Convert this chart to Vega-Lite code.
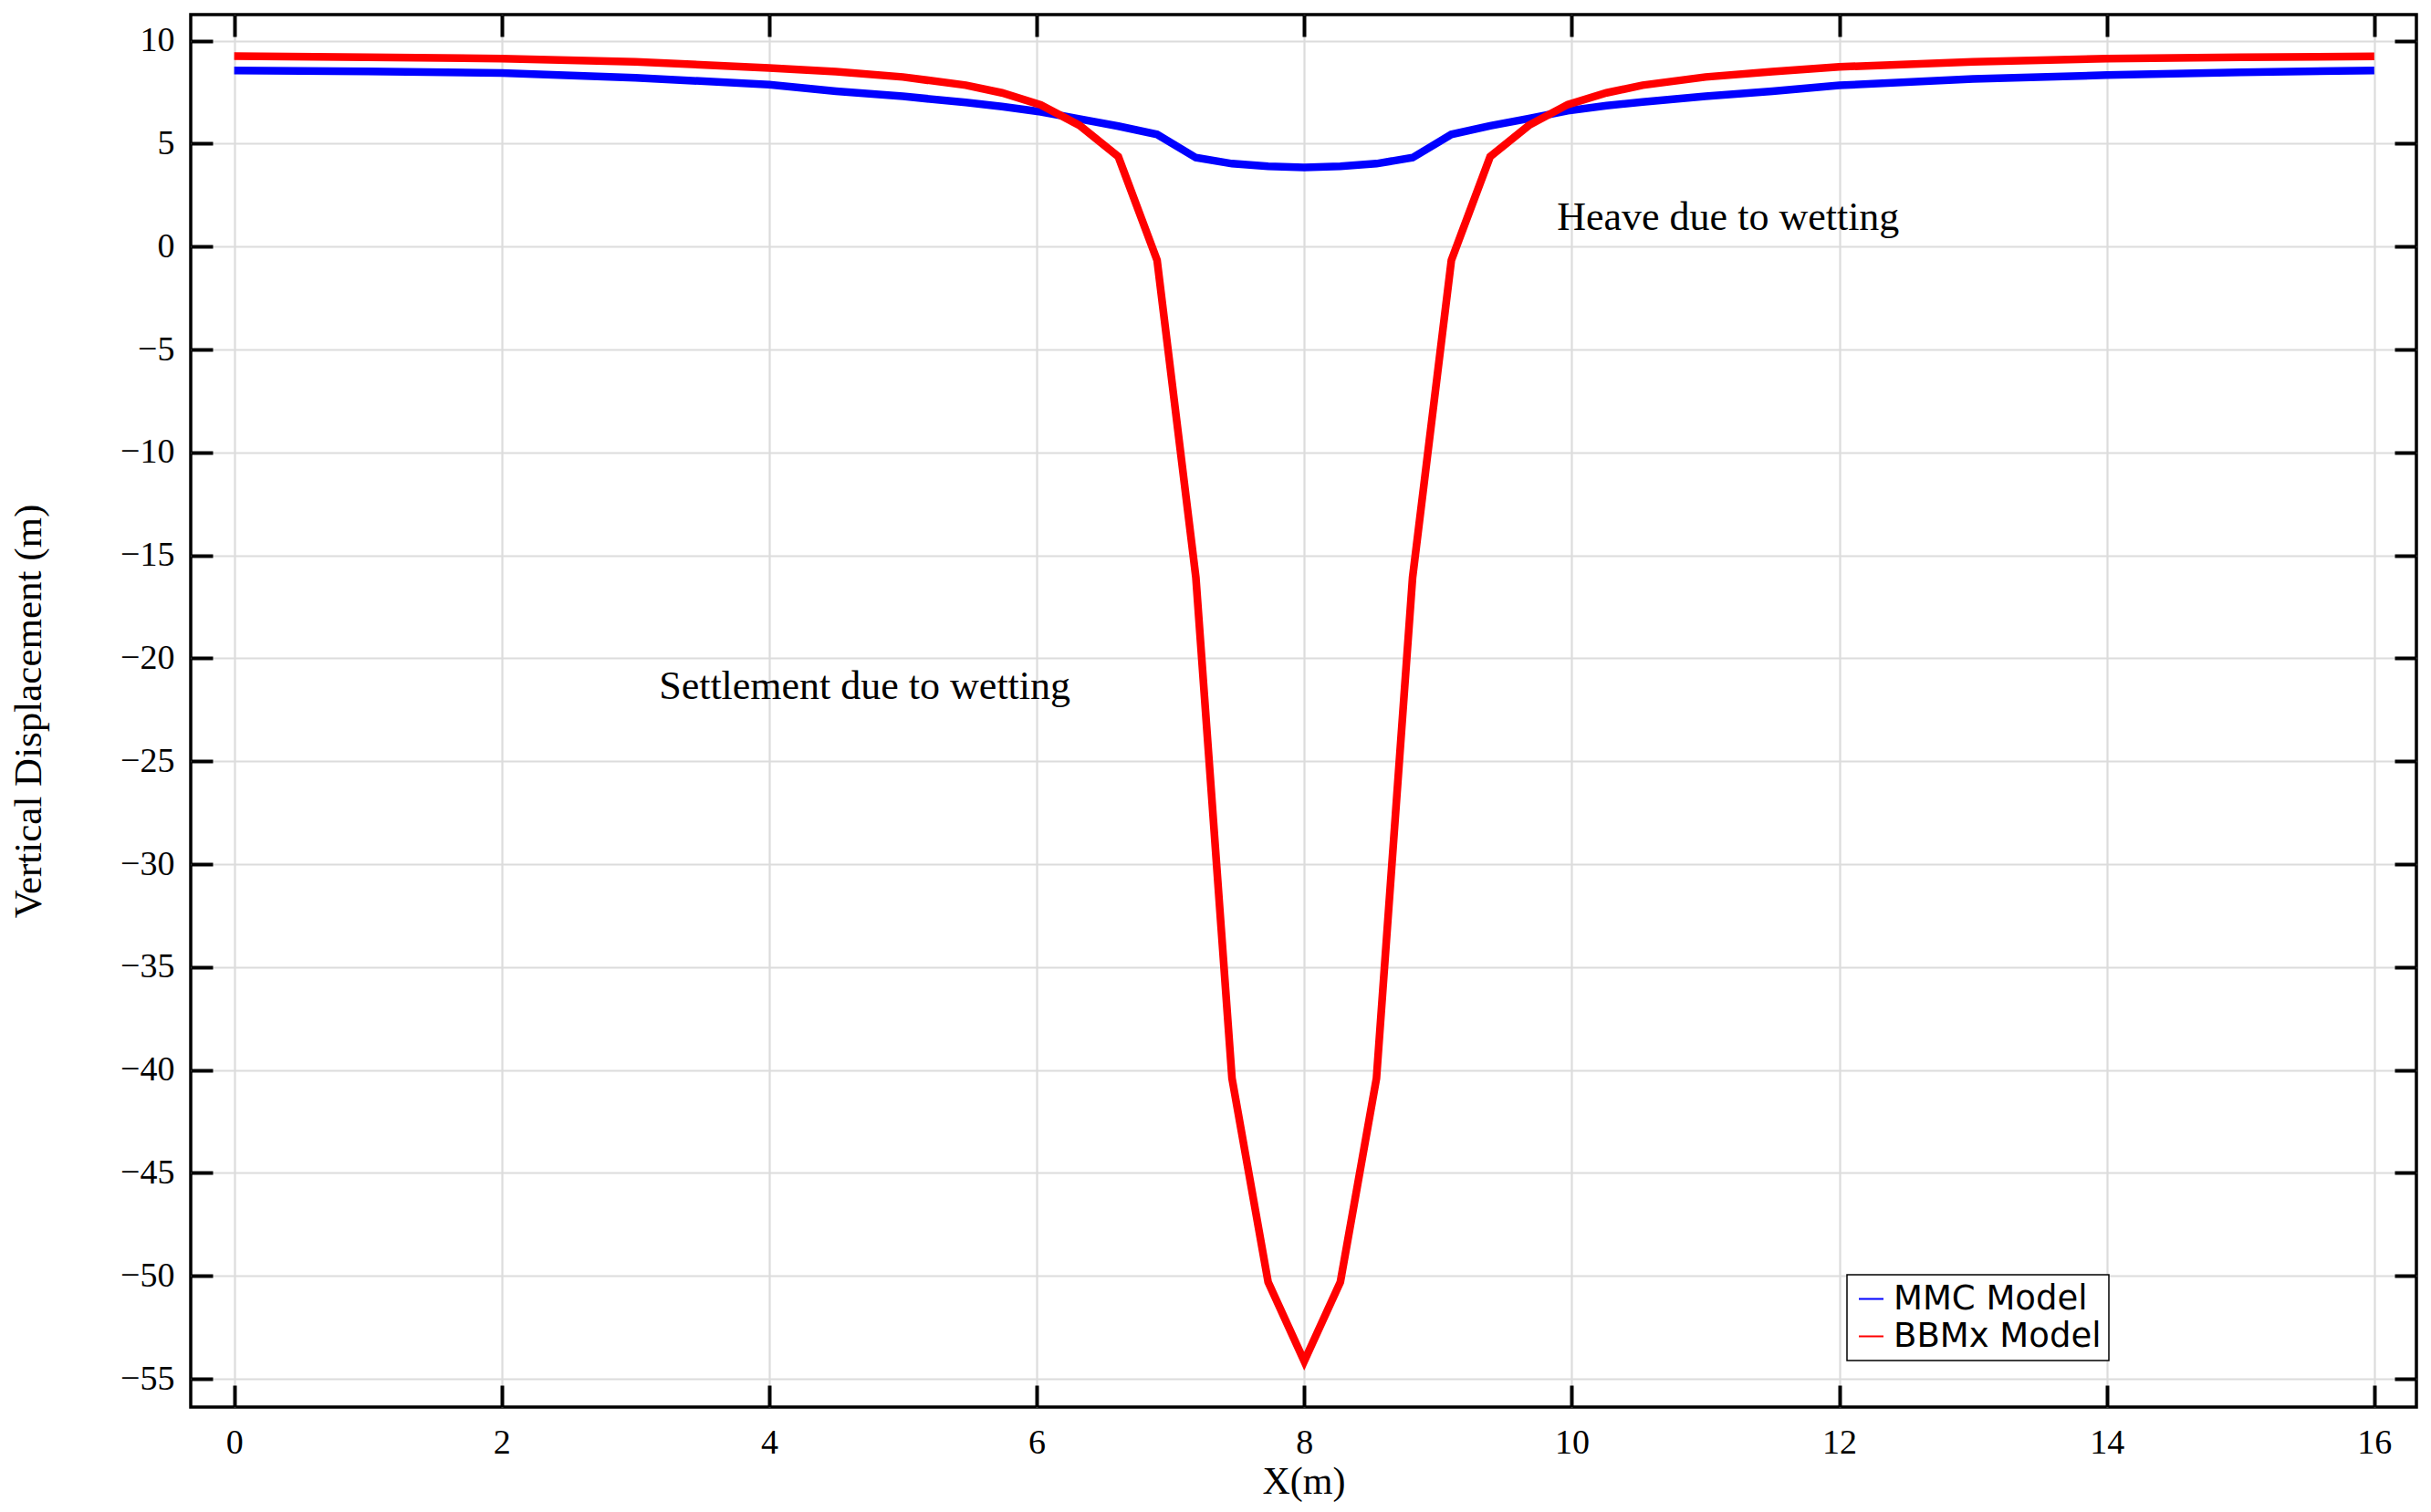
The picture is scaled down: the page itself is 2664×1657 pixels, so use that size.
{
  "$schema": "https://vega.github.io/schema/vega-lite/v6.json",
  "width": 2439,
  "height": 1526,
  "autosize": {"type": "none"},
  "padding": {"left": 209, "top": 16, "right": 16, "bottom": 115},
  "background": "white",
  "config": {
    "view": {"stroke": "black", "strokeWidth": 3.5}
  },
  "data": {
    "values": [
      {"model": "MMC Model", "x_m": 0, "disp": 8.56},
      {"model": "MMC Model", "x_m": 1, "disp": 8.51},
      {"model": "MMC Model", "x_m": 2, "disp": 8.43},
      {"model": "MMC Model", "x_m": 3, "disp": 8.2},
      {"model": "MMC Model", "x_m": 4, "disp": 7.87},
      {"model": "MMC Model", "x_m": 4.5, "disp": 7.55},
      {"model": "MMC Model", "x_m": 5.0, "disp": 7.3},
      {"model": "MMC Model", "x_m": 5.47, "disp": 7.0},
      {"model": "MMC Model", "x_m": 5.74, "disp": 6.8},
      {"model": "MMC Model", "x_m": 6.03, "disp": 6.55},
      {"model": "MMC Model", "x_m": 6.32, "disp": 6.2},
      {"model": "MMC Model", "x_m": 6.61, "disp": 5.85},
      {"model": "MMC Model", "x_m": 6.9, "disp": 5.45},
      {"model": "MMC Model", "x_m": 7.19, "disp": 4.32},
      {"model": "MMC Model", "x_m": 7.46, "disp": 4.03},
      {"model": "MMC Model", "x_m": 7.73, "disp": 3.9},
      {"model": "MMC Model", "x_m": 8.0, "disp": 3.85},
      {"model": "MMC Model", "x_m": 8.27, "disp": 3.9},
      {"model": "MMC Model", "x_m": 8.54, "disp": 4.03},
      {"model": "MMC Model", "x_m": 8.81, "disp": 4.32},
      {"model": "MMC Model", "x_m": 9.1, "disp": 5.45},
      {"model": "MMC Model", "x_m": 9.39, "disp": 5.87},
      {"model": "MMC Model", "x_m": 9.68, "disp": 6.22},
      {"model": "MMC Model", "x_m": 9.97, "disp": 6.6},
      {"model": "MMC Model", "x_m": 10.26, "disp": 6.85},
      {"model": "MMC Model", "x_m": 10.53, "disp": 7.03},
      {"model": "MMC Model", "x_m": 11.0, "disp": 7.3},
      {"model": "MMC Model", "x_m": 11.5, "disp": 7.55},
      {"model": "MMC Model", "x_m": 12, "disp": 7.83},
      {"model": "MMC Model", "x_m": 13, "disp": 8.15},
      {"model": "MMC Model", "x_m": 14, "disp": 8.33},
      {"model": "MMC Model", "x_m": 15, "disp": 8.47},
      {"model": "MMC Model", "x_m": 16, "disp": 8.56},
      {"model": "BBMx Model", "x_m": 0, "disp": 9.25},
      {"model": "BBMx Model", "x_m": 1, "disp": 9.2},
      {"model": "BBMx Model", "x_m": 2, "disp": 9.13},
      {"model": "BBMx Model", "x_m": 3, "disp": 8.98},
      {"model": "BBMx Model", "x_m": 4, "disp": 8.68},
      {"model": "BBMx Model", "x_m": 4.5, "disp": 8.5},
      {"model": "BBMx Model", "x_m": 5.0, "disp": 8.24},
      {"model": "BBMx Model", "x_m": 5.47, "disp": 7.84},
      {"model": "BBMx Model", "x_m": 5.74, "disp": 7.47},
      {"model": "BBMx Model", "x_m": 6.03, "disp": 6.88},
      {"model": "BBMx Model", "x_m": 6.32, "disp": 5.89},
      {"model": "BBMx Model", "x_m": 6.61, "disp": 4.37},
      {"model": "BBMx Model", "x_m": 6.9, "disp": -0.66},
      {"model": "BBMx Model", "x_m": 7.19, "disp": -16.08},
      {"model": "BBMx Model", "x_m": 7.46, "disp": -40.4},
      {"model": "BBMx Model", "x_m": 7.73, "disp": -50.3},
      {"model": "BBMx Model", "x_m": 8.0, "disp": -54.14},
      {"model": "BBMx Model", "x_m": 8.27, "disp": -50.3},
      {"model": "BBMx Model", "x_m": 8.54, "disp": -40.4},
      {"model": "BBMx Model", "x_m": 8.81, "disp": -16.08},
      {"model": "BBMx Model", "x_m": 9.1, "disp": -0.66},
      {"model": "BBMx Model", "x_m": 9.39, "disp": 4.37},
      {"model": "BBMx Model", "x_m": 9.68, "disp": 5.89},
      {"model": "BBMx Model", "x_m": 9.97, "disp": 6.9},
      {"model": "BBMx Model", "x_m": 10.26, "disp": 7.47},
      {"model": "BBMx Model", "x_m": 10.53, "disp": 7.84},
      {"model": "BBMx Model", "x_m": 11.0, "disp": 8.24},
      {"model": "BBMx Model", "x_m": 11.5, "disp": 8.5},
      {"model": "BBMx Model", "x_m": 12, "disp": 8.73},
      {"model": "BBMx Model", "x_m": 13, "disp": 8.98},
      {"model": "BBMx Model", "x_m": 14, "disp": 9.13},
      {"model": "BBMx Model", "x_m": 15, "disp": 9.2},
      {"model": "BBMx Model", "x_m": 16, "disp": 9.24}
    ]
  },
  "layer": [
    {
      "mark": {"type": "line", "strokeWidth": 8.5},
      "encoding": {
        "x": {
          "field": "x_m", "type": "quantitative",
          "scale": {"domain": [-0.325, 16.315], "nice": false, "zero": false},
          "axis": {
            "orient": "bottom",
            "values": [0, 2, 4, 6, 8, 10, 12, 14, 16],
            "title": "X(m)",
            "titleFont": "Liberation Serif", "titleFontSize": 42, "titleFontWeight": "normal", "titleColor": "black",
            "titleY": 81, "titleBaseline": "middle",
            "labelFont": "Liberation Serif", "labelFontSize": 38, "labelColor": "black",
            "labelPadding": 44, "labelFlush": false, "labelOverlap": false,
            "tickSize": -24, "tickWidth": 4, "tickColor": "black",
            "domain": false,
            "grid": true, "gridColor": "#dcdcdc", "gridWidth": 2.2
          }
        },
        "y": {
          "field": "disp", "type": "quantitative",
          "scale": {"domain": [-56.37, 11.27], "nice": false, "zero": false},
          "axis": {
            "orient": "left",
            "values": [10, 5, 0, -5, -10, -15, -20, -25, -30, -35, -40, -45, -50, -55],
            "title": "Vertical Displacement (m)",
            "titleFont": "Liberation Serif", "titleFontSize": 43, "titleFontWeight": "normal", "titleColor": "black",
            "titleX": -178, "titleY": 763, "titleBaseline": "middle",
            "labelFont": "Liberation Serif", "labelFontSize": 38, "labelColor": "black",
            "labelPadding": 42, "labelFlush": false, "labelOverlap": false,
            "tickSize": -24, "tickWidth": 4, "tickColor": "black",
            "domain": false,
            "grid": true, "gridColor": "#dcdcdc", "gridWidth": 2.2
          }
        },
        "color": {
          "field": "model", "type": "nominal",
          "scale": {"domain": ["MMC Model", "BBMx Model"], "range": ["#0000ff", "#ff0000"]},
          "legend": {
            "orient": "none", "legendX": 1815, "legendY": 1381,
            "title": null,
            "strokeColor": "black", "fillColor": "white",
            "padding": 8, "cornerRadius": 0,
            "labelFont": "DejaVu Sans", "labelFontSize": 37, "labelColor": "black", "labelLimit": 600,
            "symbolType": "stroke", "symbolStrokeWidth": 2, "symbolSize": 729,
            "rowPadding": 3, "labelOffset": 6,
            "encode": {"legend": {"update": {"strokeWidth": {"value": 1.5}}}}
          }
        }
      }
    },
    {
      "mark": {"type": "point", "opacity": 0},
      "encoding": {
        "x": {
          "field": "x_m", "type": "quantitative",
          "axis": {
            "orient": "top", "values": [0, 2, 4, 6, 8, 10, 12, 14, 16],
            "labels": false, "title": null, "grid": false, "domain": false,
            "tickSize": -24, "tickWidth": 4, "tickColor": "black"
          }
        },
        "y": {
          "field": "disp", "type": "quantitative",
          "axis": {
            "orient": "right",
            "values": [10, 5, 0, -5, -10, -15, -20, -25, -30, -35, -40, -45, -50, -55],
            "labels": false, "title": null, "grid": false, "domain": false,
            "tickSize": -24, "tickWidth": 4, "tickColor": "black"
          }
        }
      }
    },
    {
      "data": {
        "values": [
          {"x_m": 3.176, "disp": -21.96, "note": "Settlement due to wetting"},
          {"x_m": 9.89, "disp": 0.8, "note": "Heave due to wetting"}
        ]
      },
      "mark": {"type": "text", "font": "Liberation Serif", "fontSize": 44, "align": "left", "baseline": "alphabetic", "color": "black"},
      "encoding": {
        "x": {"field": "x_m", "type": "quantitative", "axis": null},
        "y": {"field": "disp", "type": "quantitative", "axis": null},
        "text": {"field": "note"}
      }
    }
  ],
  "resolve": {"axis": {"x": "independent", "y": "independent"}}
}
